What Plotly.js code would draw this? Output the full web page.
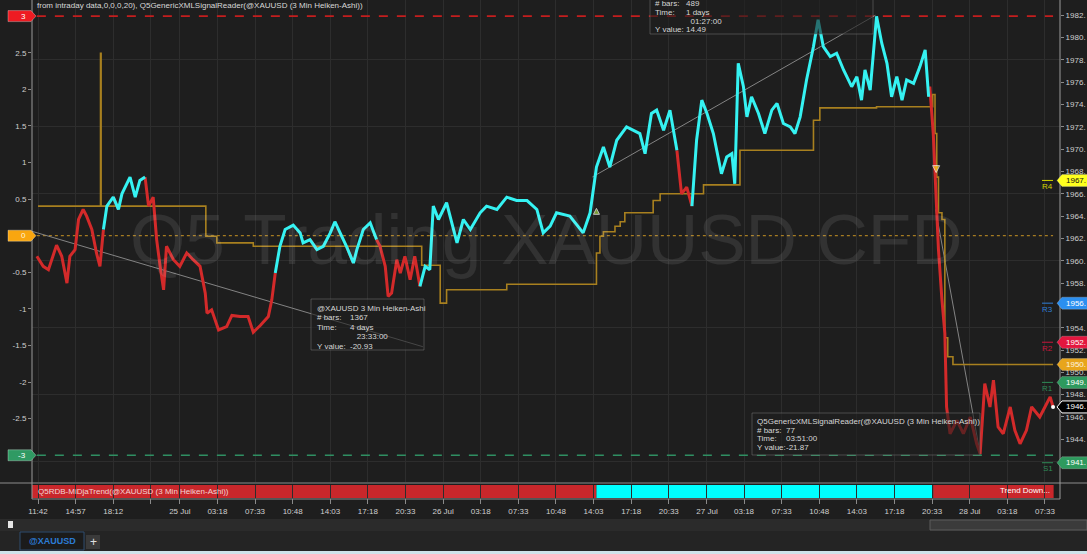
<!DOCTYPE html>
<html>
<head>
<meta charset="utf-8">
<script src="https://cdn.plot.ly/plotly-3.0.1.min.js"></script>
<style>
html,body{margin:0;padding:0;background:#1e1e1e;overflow:hidden;}
#chart{width:1087px;height:554px;}
</style>
</head>
<body>
<div id="chart"></div>
<script>
// ================= DATA =================
// x = 3-minute bar index (0 = 24 Jul 11:42)
const tickBars = [0,65,130,195,245,310,375,440,505,570,635,700,765,830,895,960,1025,1090,1156,1220,1285,1350,1415,1480,1545,1610,1675,1740];
const tickLabels = ['11:42','14:57','18:12','','25 Jul','03:18','07:33','10:48','14:03','17:18','20:33','26 Jul','03:18','07:33','10:48','14:03','17:18','20:33','27 Jul','03:18','07:33','10:48','14:03','17:18','20:33','28 Jul','03:18','07:33'];

const oscTicks = [-2.5,-2,-1.5,-1,-0.5,0.5,1,1.5,2,2.5];
const priceTicks = [1944,1946,1948,1950,1952,1954,1956,1958,1960,1962,1964,1966,1968,1970,1972,1974,1976,1978,1980,1982];
const priceGrid = [1942,1948,1954,1960,1966,1972,1978];

// XAUUSD 3 Min Heiken-Ashi close
const priceBars = [-2,9,18,24,32,41,50,55,64,70,
78,84,93,101,107,113,119,130,139,145,
159,168,176,185,191,199,205,211,217,222,
234,245,257,268,280,289,292,300,312,326,
335,349,363,372,384,398,404,410,418,427,
441,453,458,470,482,493,505,513,525,533,
545,551,562,574,585,591,600,605,611,620,
626,634,643,651,660,669,677,683,692,706,
724,735,747,764,775,793,810,827,845,862,
873,885,896,919,942,954,965,977,988,1000,
1017,1040,1049,1060,1069,1081,1092,1104,1112,1121,
1130,1138,1147,1156,1167,1181,1190,1199,1204,1210,
1219,1225,1233,1245,1256,1268,1277,1288,1300,1308,
1317,1328,1340,1348,1357,1369,1380,1392,1406,1415,
1423,1429,1438,1449,1458,1467,1475,1484,1493,1501,
1513,1524,1533,1539,1541,1547,1550,1556,1562,1567,
1570,1576,1588,1599,1611,1622,1628,1636,1645,1651,
1659,1668,1680,1688,1697,1708,1717,1731,1740,1749,1754];
const priceVals = [1960.4,1959.5,1959.2,1960.1,1961.4,1960.4,1958.0,1960.4,1961.0,1963.7,
1964.6,1964.0,1962.8,1960.7,1959.5,1962.8,1964.9,1965.7,1964.6,1966.0,
1967.5,1965.7,1967.2,1967.5,1964.9,1965.7,1961.9,1959.5,1957.4,1961.3,
1960.1,1959.5,1960.7,1960.1,1959.5,1957.1,1955.3,1955.6,1953.8,1954.1,
1955.1,1955.0,1955.0,1953.6,1954.2,1955.0,1956.5,1958.9,1961.3,1962.8,
1963.2,1962.5,1961.6,1961.9,1961.0,1961.3,1962.5,1963.5,1962.2,1961.3,
1959.8,1961.0,1962.8,1963.4,1961.9,1961.3,1959.5,1956.8,1957.1,1960.1,
1958.9,1960.4,1958.3,1960.4,1957.7,1959.5,1959.2,1964.9,1963.7,1965.2,
1961.6,1963.7,1962.8,1964.3,1964.9,1964.6,1965.7,1965.4,1965.4,1964.6,
1962.5,1963.1,1964.3,1964.0,1962.5,1964.3,1968.4,1970.2,1968.4,1970.8,
1972.0,1971.4,1969.6,1973.2,1973.5,1971.7,1973.5,1969.9,1966.0,1966.6,
1964.9,1970.8,1974.4,1973.2,1971.4,1967.8,1969.3,1969.6,1966.9,1977.7,
1975.6,1972.9,1974.7,1973.2,1971.4,1973.5,1974.1,1972.3,1972.0,1971.4,
1972.9,1976.2,1979.2,1981.6,1979.2,1978.3,1978.6,1977.1,1975.6,1976.5,
1974.4,1977.1,1975.3,1981.9,1979.5,1977.7,1974.7,1976.5,1974.4,1976.2,
1975.9,1977.4,1978.9,1974.7,1975.6,1971.4,1967.8,1961.0,1956.5,1953.5,
1946.9,1944.5,1945.7,1944.5,1946.0,1943.6,1942.7,1949.0,1946.9,1949.3,
1945.1,1944.5,1946.9,1944.8,1943.6,1944.8,1946.9,1946.0,1946.9,1947.8,1946.9];
// Heiken-Ashi candle direction runs (d = down/red, u = up/cyan)
const haRuns = [['d',16],['u',2],['d',1],['u',5],['d',24],['u',6],['d',1],['u',5],['d',1],['u',4],['d',10],['u',33],['d',3],['u',43],['d',27]];

// trailing stop step line
const stepBars = [0,108,109,290,309,372,663,695,706,810,965,971,977,997,1006,1014,1063,1075,1150,1213,1340,1351,1449,1546,1550,1553,1556,1562,1567,1572,1581,1754];
const stepVals = [1964.9,1978.6,1964.9,1962.2,1961.6,1961.3,1959.6,1956.2,1957.4,1957.9,1960.7,1962.2,1962.6,1963.1,1963.5,1964.3,1965.4,1966.0,1966.8,1969.9,1972.6,1973.7,1973.8,1974.9,1971.4,1967.5,1964.3,1963.7,1953.1,1951.4,1950.7,1950.7];

// trend signal band
const sigStart = [-30, 965, 1547];
const sigEnd   = [965, 1547, 1755];
const sigState = ['down','up','down'];

// signal arrows
const arrowBars = [965, 1552];
const arrowVals = [1964.7, 1967.9];
const arrowDir  = ['up','down'];

// oscillator levels (left axis)
const oscLevels = [3, 0, -3];
const oscLabels = ['3','0','-3'];

// pivot levels
const pivotNames = ['R4','R3','R2','R1','S1'];
const pivotVals  = [1967.2, 1956.2, 1952.7, 1949.1, 1941.9];

// measuring tool lines: anchor bar, anchor price, # bars, y value
const measAnchorBar = [665, 958, 1551];
const measAnchorVal = [1952.3, 1967.51, 1964.6];
const measBars  = [-1367, 489, 77];
const measDelta = [-20.93, 14.49, -21.87];

// ================= LAYOUT HELPERS =================
const W = 1087, H = 554;
const PX = v => v / W, PY = v => 1 - v / H;
const FONT = 'Liberation Sans, Arial, sans-serif';
const RED = '#d32a2a', CYAN = '#35f2f2';

function rect(x0,y0,x1,y1,fill,lc,lw){
  return {type:'rect',xref:'paper',yref:'paper',x0:PX(x0),x1:PX(x1),y0:PY(y1),y1:PY(y0),
    fillcolor:fill,line:{color:lc||'rgba(0,0,0,0)',width:lw||0},layer:'above'};
}
function pline(x0,y0,x1,y1,c,w){
  return {type:'line',xref:'paper',yref:'paper',x0:PX(x0),x1:PX(x1),y0:PY(y0),y1:PY(y1),line:{color:c,width:w||1},layer:'above'};
}
function ann(x,y,text,o){
  o = o || {};
  return {xref:'paper',yref:'paper',x:PX(x),y:PY(y),text:text,showarrow:false,
    xanchor:o.xanchor||'left',yanchor:'middle',
    font:{family:FONT,size:o.size||8,color:o.color||'#d2d2d2',weight:o.weight||'normal'}};
}

// ================= TRACES =================
const haDir = [];
haRuns.forEach(r => { for (let k=0;k<r[1];k++) haDir.push(r[0]); });
const n = priceVals.length;
function dirSeries(c){
  return priceVals.map((v,i) => (haDir[i]===c || (i+1<n && haDir[i+1]===c)) ? v : null);
}
const firstBar = priceBars[0], lastBar = priceBars[n-1];
const traces = [];

// oscillator level lines
const oscStyle = {'3':{c:'#c41e1e',d:'dash',w:1.6},'0':{c:'#a57b22',d:'dot',w:1.2},'-3':{c:'#2f8f62',d:'dash',w:1.4}};
oscLevels.forEach((lv,i)=>{
  const s = oscStyle[oscLabels[i]];
  traces.push({x:[firstBar,lastBar],y:[lv,lv],yaxis:'y',mode:'lines',line:{color:s.c,dash:s.d,width:s.w},hoverinfo:'skip'});
});

// grid helper axis traces
traces.push({x:[null],y:[null],yaxis:'y4',mode:'lines',hoverinfo:'skip'});
traces.push({x:[null],y:[null],yaxis:'y3',mode:'lines',hoverinfo:'skip'});

// measuring lines
measAnchorBar.forEach((b,i)=>{
  traces.push({x:[b, b+measBars[i]], y:[measAnchorVal[i], measAnchorVal[i] + (measBars[i]<0 ? -measDelta[i] : measDelta[i])],
    yaxis:'y2',mode:'lines',line:{color:'#8e8e8e',width:0.9},hoverinfo:'skip'});
});

// step line
traces.push({x:stepBars,y:stepVals,yaxis:'y2',mode:'lines',line:{color:'#a8801f',width:1.6,shape:'hv'},hoverinfo:'skip'});

// price lines
traces.push({x:priceBars,y:dirSeries('d'),yaxis:'y2',mode:'lines',line:{color:RED,width:3},hoverinfo:'skip'});
traces.push({x:priceBars,y:dirSeries('u'),yaxis:'y2',mode:'lines',line:{color:CYAN,width:3},hoverinfo:'skip'});

// signal arrows
traces.push({x:arrowBars,y:arrowVals,yaxis:'y2',mode:'markers',
  marker:{symbol:arrowDir.map(d=>d==='up'?'arrow-up':'arrow-down'),size:arrowDir.map(d=>d==='up'?6:7),
  color:arrowDir.map(d=>d==='up'?'#9fcf3a':'#ffd21a')},hoverinfo:'skip'});
// last price dot
traces.push({x:[lastBar],y:[priceVals[n-1]],yaxis:'y2',mode:'markers',marker:{color:'#ffffff',size:4},hoverinfo:'skip'});

// ================= SHAPES & ANNOTATIONS =================
const shapes = [];
const annotations = [];

// trend band
sigStart.forEach((s,i)=>{
  shapes.push({type:'rect',xref:'x',yref:'y3',x0:s,x1:sigEnd[i],y0:0,y1:1,
    fillcolor: sigState[i]==='up' ? '#00ffff' : '#c9272b', line:{width:0}, layer:'below'});
});

// frame lines
shapes.push(pline(0,483,W,483,'#8c8c8c',1));
shapes.push(pline(32,0,32,499,'#9a9a9a',1));
shapes.push(pline(1060,0,1060,499,'#9a9a9a',1));
shapes.push(pline(32,499,1060,499,'#8c8c8c',1));

// tooltip boxes
const tips = [
  {box:[311,299,424,350], lx:315, vx:348, y0:308, dy:9.5,
   rows:[['@XAUUSD 3 Min Heiken-Ashi',''],['# bars:','1367'],['Time:','4 days'],['','\u00a0\u00a0\u00a023:33:00'],['Y value:','-20.93']]},
  {box:[650,-3,873,34], lx:653, vx:684, y0:3.5, dy:8.8,
   rows:[['# bars:','489'],['Time:','1 days'],['','\u00a0\u00a001:27:00'],['Y value:','14.49']]},
  {box:[752,413,980,455], lx:755, vx:784, y0:421.5, dy:8.6,
   rows:[['Q5GenericXMLSignalReader(@XAUUSD (3 Min Heiken-Ashi))',''],['# bars:','77'],['Time:','03:51:00'],['Y value:','-21.87']]}
];
tips.forEach(t=>{
  shapes.push(rect(t.box[0],t.box[1],t.box[2],t.box[3],'rgba(30,30,30,0.6)','rgba(120,120,120,0.5)',1));
  t.rows.forEach((r,k)=>{
    const y = t.y0 + k*t.dy;
    if (r[0]) annotations.push(ann(t.lx,y,r[0],{color:'#d6d6d6'}));
    if (r[1]) annotations.push(ann(t.vx,y,r[1],{color:'#d6d6d6'}));
  });
});

// left oscillator tags
const oscTagColor = {'3':['#ee1b22','#ffffff'],'0':['#f9a60f','#fff4da'],'-3':['#2f9a63','#ffffff']};
oscLevels.forEach((lv,i)=>{
  const c = oscTagColor[oscLabels[i]];
  shapes.push({type:'path',xref:'paper',yref:'y',xsizemode:'pixel',ysizemode:'pixel',xanchor:PX(36),yanchor:lv,
    path:'M0,0 L-5,-5.5 L-28,-5.5 L-28,5.5 L-5,5.5 Z',fillcolor:c[0],line:{color:'rgba(255,255,255,0.5)',width:0.6},layer:'above'});
  annotations.push({xref:'paper',yref:'y',x:PX(28),y:lv,text:oscLabels[i],showarrow:false,xanchor:'right',yanchor:'middle',
    font:{family:FONT,size:8,color:c[1]}});
});

// right price tags
const pivotStyle = {R4:['#ffff1e','#111111','#d4d400'],R3:['#2b8ff0','#ffffff','#2f7fd8'],R2:['#e3163e','#ffffff','#c8163c'],
                    R1:['#2e9a5e','#ffffff','#2e8b57'],S1:['#2e9a5e','#ffffff','#2e8b57']};
const rightTags = pivotNames.map((nm,i)=>({v:pivotVals[i],bg:pivotStyle[nm][0],fg:pivotStyle[nm][1]}));
rightTags.push({v:stepVals[stepVals.length-1],bg:'#e8a51c',fg:'#fff6e0'});
rightTags.push({v:priceVals[n-1],bg:'#000000',fg:'#ffffff',bd:'#ffffff'});
rightTags.forEach(t=>{
  shapes.push({type:'path',xref:'paper',yref:'y2',xsizemode:'pixel',ysizemode:'pixel',xanchor:PX(1057),yanchor:t.v,
    path:'M0,0 L5,-6 L40,-6 L40,6 L5,6 Z',fillcolor:t.bg,line:{color:t.bd||'rgba(255,255,255,0.35)',width:t.bd?1:0.6},layer:'above'});
  annotations.push({xref:'paper',yref:'y2',x:PX(1064),y:t.v,text:Math.trunc(t.v)+'.',showarrow:false,xanchor:'left',yanchor:'middle',
    font:{family:FONT,size:8,color:t.fg}});
});
// price tick labels hidden where a tag sits right on top of them
const tagVals = rightTags.map(t=>t.v);
const priceTickText = priceTicks.map(v => tagVals.some(tv => Math.abs(tv - v) < 0.5) ? '' : v + '.');

// pivot labels with overline
pivotNames.forEach((nm,i)=>{
  const c = pivotStyle[nm][2];
  shapes.push({type:'line',xref:'paper',yref:'y2',ysizemode:'pixel',yanchor:pivotVals[i],x0:PX(1042),x1:PX(1053),y0:0,y1:0,
    line:{color:c,width:1},layer:'above'});
  annotations.push({xref:'paper',yref:'y2',x:PX(1047.5),y:pivotVals[i],yshift:-6,text:nm,showarrow:false,xanchor:'center',yanchor:'middle',
    font:{family:FONT,size:8,color:c}});
});

// watermark
annotations.push({xref:'paper',yref:'paper',x:PX(546),y:PY(240),text:'Q5 Trading XAUUSD CFD',showarrow:false,
  xanchor:'center',yanchor:'middle',font:{family:FONT,size:71,color:'rgba(255,255,255,0.09)'}});

// header
annotations.push(ann(35,5,'from intraday data,0,0,0,20), Q5GenericXMLSignalReader(@XAUUSD (3 Min Heiken-Ashi))',{color:'#d8d8d8'}));

// band labels
annotations.push(ann(36,491,'Q5RDB-MiDjaTrend(@XAUUSD (3 Min Heiken-Ashi))',{color:'rgba(255,255,255,0.8)'}));
annotations.push(ann(1052,490,'Trend Down...',{color:'#ffffff',xanchor:'right'}));

// bottom UI
shapes.push(rect(0,519,W,531,'#2b2b2b'));
shapes.push(rect(930,520,W,530,'#3b3b3b','#5c5c5c',1));
shapes.push(rect(8,521,13,528,'#e6e6e6'));
shapes.push(rect(0,531,W,551,'#242424'));
shapes.push(rect(20,532,84,550,'#1b1b1b','#2e4d6e',1));
shapes.push(rect(86,535,100,549,'#3a3a3a'));
shapes.push(rect(0,551,W,554,'#cfe3ea'));
annotations.push(ann(52,541,'@XAUUSD',{xanchor:'center',size:9,color:'#2b7bd6',weight:'bold'}));
annotations.push(ann(93,542,'+',{xanchor:'center',size:12,color:'#e0e0e0'}));

// ================= LAYOUT =================
const y2Range = [1940.173, 1983.371];
const axFont = {family:FONT,size:8,color:'#cfcfcf'};
const layout = {
  width:W, height:H, margin:{l:0,r:0,t:0,b:0},
  paper_bgcolor:'#1e1e1e', plot_bgcolor:'#1e1e1e', showlegend:false,
  font:{family:FONT,size:8,color:'#cfcfcf'},
  xaxis:{domain:[PX(32),PX(1060)],anchor:'y3',range:[-10.4,1766],tickmode:'array',tickvals:tickBars,ticktext:tickLabels,
    ticks:'outside',ticklen:5,tickcolor:'#8a8a8a',tickfont:axFont,showgrid:true,gridcolor:'#2d2d2d',gridwidth:1,
    zeroline:false,showline:false,fixedrange:true},
  yaxis:{domain:[PY(482),1],range:[-3.365,3.22],tickmode:'array',tickvals:oscTicks,ticktext:oscTicks.map(String),
    ticks:'outside',ticklen:3,tickcolor:'#8a8a8a',tickfont:axFont,showgrid:false,zeroline:false,showline:false},
  yaxis2:{overlaying:'y',side:'right',anchor:'x',range:y2Range,tickmode:'array',tickvals:priceTicks,ticktext:priceTickText,
    ticks:'outside',ticklen:3,tickcolor:'#8a8a8a',tickfont:axFont,showgrid:false,zeroline:false,showline:false},
  yaxis3:{domain:[PY(498),PY(485)],anchor:'x',range:[0,1],showticklabels:false,showgrid:false,zeroline:false,ticks:''},
  yaxis4:{overlaying:'y',side:'left',anchor:'x',range:y2Range,tickmode:'array',tickvals:priceGrid,showticklabels:false,ticks:'',
    showgrid:true,gridcolor:'#2d2d2d',zeroline:false,showline:false},
  shapes:shapes, annotations:annotations
};

Plotly.newPlot('chart', traces, layout, {staticPlot:true, displayModeBar:false});
</script>
</body>
</html>
